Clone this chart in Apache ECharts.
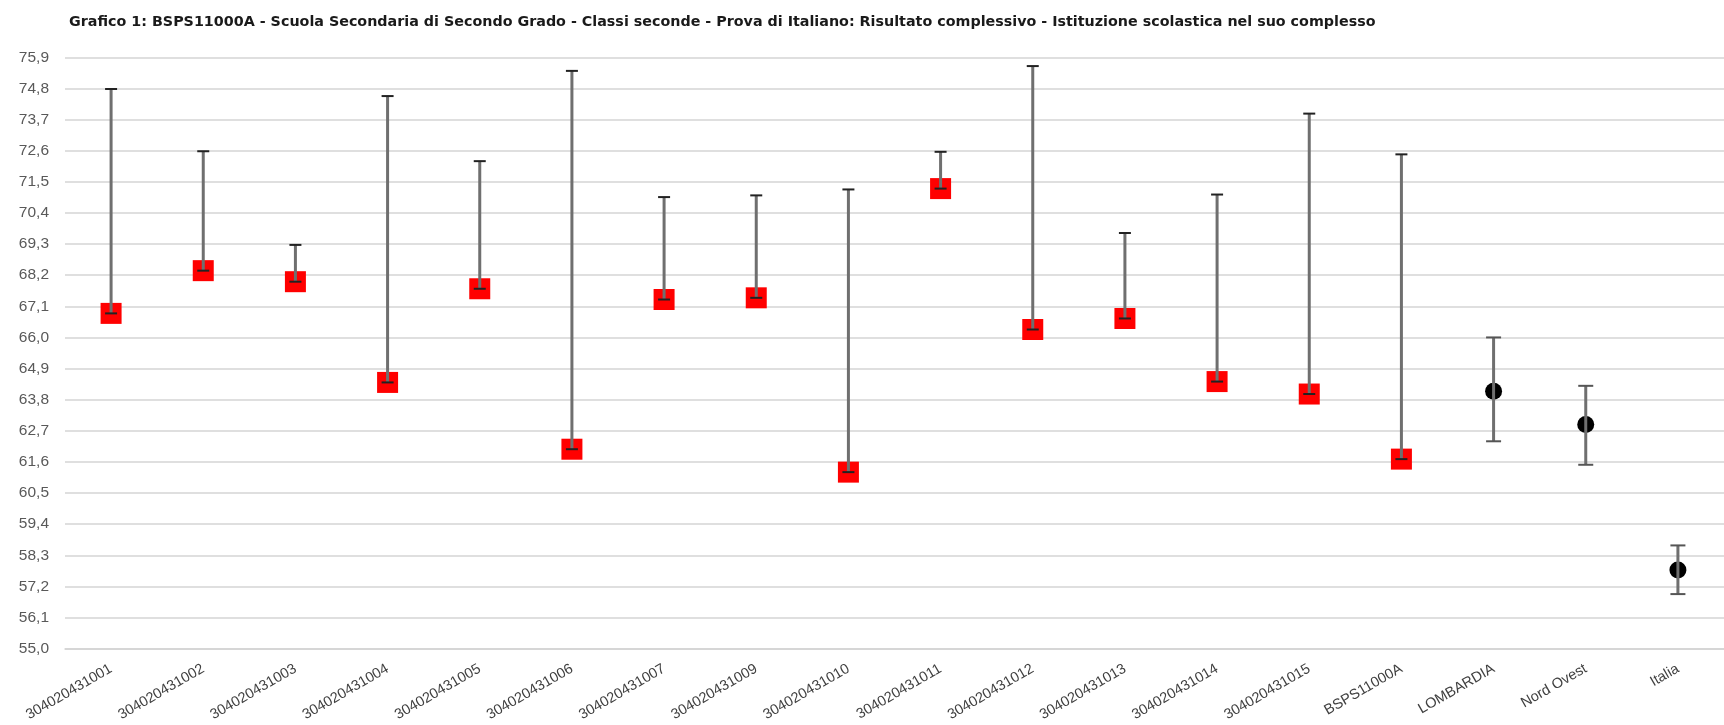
<!DOCTYPE html>
<html>
<head>
<meta charset="utf-8">
<script src="https://cdn.jsdelivr.net/npm/echarts@6/dist/echarts.min.js"></script>
<style>
html,body{margin:0;padding:0;background:#fff;}
#chart{width:1724px;height:725px;}
</style>
</head>
<body>
<div id="chart"></div>
<script>
const titleText = 'Grafico 1: BSPS11000A - Scuola Secondaria di Secondo Grado - Classi seconde - Prova di Italiano: Risultato complessivo - Istituzione scolastica nel suo complesso';
const categories = ['304020431001','304020431002','304020431003','304020431004','304020431005','304020431006','304020431007','304020431009','304020431010','304020431011','304020431012','304020431013','304020431014','304020431015','BSPS11000A','LOMBARDIA','Nord Ovest','Italia'];
const schoolValues = [66.85,68.36,67.97,64.41,67.72,62.05,67.34,67.40,61.24,71.26,66.28,66.67,64.44,64.00,61.70,null,null,null];
const benchmarkValues = [null,null,null,null,null,null,null,null,null,null,null,null,null,null,null,64.10,62.92,57.78];
const lowerBounds = [66.85,68.36,67.97,64.41,67.72,62.05,67.34,67.40,61.24,71.26,66.28,66.67,64.44,64.00,61.70,62.33,61.50,56.93];
const upperBounds = [74.78,72.58,69.27,74.53,72.23,75.42,70.96,71.02,71.23,72.56,75.59,69.69,71.05,73.91,72.47,66.00,64.29,58.65];
const yTicks = {min: 55.0, max: 75.9, step: 1.1};

const FONT = '"Liberation Sans", Arial, sans-serif';
const chart = echarts.init(document.getElementById('chart'), null, {renderer: 'canvas'});

const errorData = categories.map((c, i) => [i, lowerBounds[i], upperBounds[i], benchmarkValues[i] != null ? 1 : 0]);

const option = {
  animation: false,
  backgroundColor: '#ffffff',
  title: {
    text: titleText,
    left: 64,
    top: 10,
    textStyle: {fontFamily: '"DejaVu Sans", sans-serif', fontSize: 14.3, fontWeight: 'bold', color: '#1a1a1a'}
  },
  grid: {left: 65, top: 57.3, width: 1675.8, height: 591.4, containLabel: false},
  xAxis: {
    type: 'category',
    data: categories,
    boundaryGap: true,
    axisLine: {show: true, lineStyle: {color: '#d4d4d4', width: 1.5}},
    axisTick: {show: false},
    axisLabel: {
      interval: 0, rotate: 30, margin: 19,
      fontFamily: FONT, fontSize: 14.5, color: '#404040'
    },
    splitLine: {show: false}
  },
  yAxis: {
    type: 'value',
    min: yTicks.min, max: yTicks.max, interval: yTicks.step,
    axisLine: {show: false},
    axisTick: {show: false},
    axisLabel: {
      margin: 16, fontFamily: FONT, fontSize: 15.5, color: '#595959',
      formatter: v => v.toFixed(1).replace('.', ',')
    },
    splitLine: {show: true, lineStyle: {color: '#d4d4d4', width: 1.5}}
  },
  series: [
    {
      type: 'scatter', name: 'scuola', data: schoolValues,
      symbol: 'rect', symbolSize: 21,
      itemStyle: {color: '#ff0000', opacity: 1}, z: 2
    },
    {
      type: 'scatter', name: 'riferimento', data: benchmarkValues,
      symbol: 'circle', symbolSize: 17,
      itemStyle: {color: '#000000', opacity: 1}, z: 2
    },
    {
      type: 'custom', name: 'intervallo', data: errorData, z: 3,
      renderItem: function (params, api) {
        const x = api.value(0);
        const lo = api.coord([x, api.value(1)]);
        const hi = api.coord([x, api.value(2)]);
        const bench = api.value(3) === 1;
        const capHalf = bench ? 7.5 : 6;
        const capColor = bench ? '#555555' : '#222222';
        return {
          type: 'group',
          children: [
            {type: 'line', shape: {x1: lo[0], y1: lo[1], x2: hi[0], y2: hi[1]},
             style: {stroke: '#6f6f6f', lineWidth: 3}},
            {type: 'line', shape: {x1: hi[0] - capHalf, y1: hi[1], x2: hi[0] + capHalf, y2: hi[1]},
             style: {stroke: capColor, lineWidth: 2}},
            {type: 'line', shape: {x1: lo[0] - capHalf, y1: lo[1], x2: lo[0] + capHalf, y2: lo[1]},
             style: {stroke: capColor, lineWidth: 2}}
          ]
        };
      }
    }
  ]
};
chart.setOption(option);
</script>
</body>
</html>
